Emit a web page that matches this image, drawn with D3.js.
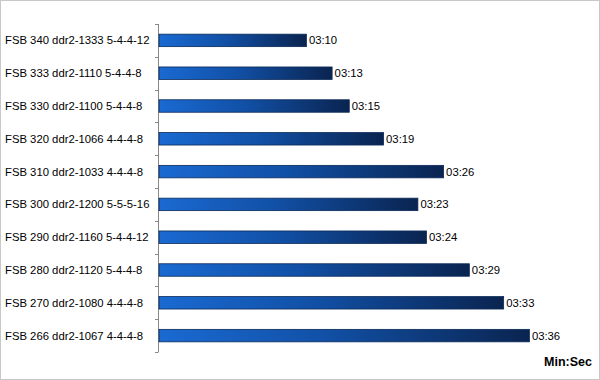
<!DOCTYPE html>
<html><head><meta charset="utf-8">
<script src="https://cdn.jsdelivr.net/npm/d3@7"></script>
<style>body{margin:0;background:#fff}svg{display:block}</style>
</head><body>
<svg id="c" width="600" height="380"></svg>
<script>
const categories = ["FSB 340 ddr2-1333 5-4-4-12","FSB 333 ddr2-1110 5-4-4-8","FSB 330 ddr2-1100 5-4-4-8","FSB 320 ddr2-1066 4-4-4-8","FSB 310 ddr2-1033 4-4-4-8","FSB 300 ddr2-1200 5-5-5-16","FSB 290 ddr2-1160 5-4-4-12","FSB 280 ddr2-1120 5-4-4-8","FSB 270 ddr2-1080 4-4-4-8","FSB 266 ddr2-1067 4-4-4-8"];
const labels = ["03:10","03:13","03:15","03:19","03:26","03:23","03:24","03:29","03:33","03:36"];
const seconds = labels.map(s => { const [m, c] = s.split(":"); return +m * 60 + +c; });
const axisUnit = "Min:Sec";

const svg = d3.select("#c");
svg.append("rect").attr("x",0.5).attr("y",0.5).attr("width",599).attr("height",379)
  .attr("fill","#fff").attr("stroke","#c8c8c8");

const defs = svg.append("defs");
const g = defs.append("linearGradient").attr("id","bg").attr("x1","0%").attr("x2","100%").attr("y1","0%").attr("y2","0%");
g.append("stop").attr("offset","0%").attr("stop-color","#1a6ad2");
g.append("stop").attr("offset","45%").attr("stop-color","#1150a6");
g.append("stop").attr("offset","100%").attr("stop-color","#0a2450");

const x0 = 158;
const x = d3.scaleLinear().domain([172.7, 220]).range([x0, x0 + 47.3 * 8.577]);
const y = d3.scaleBand().domain(categories).range([24, 352]).paddingInner(0.62).paddingOuter(0.31);

const yAxis = d3.axisLeft(y).tickSize(0).tickFormat("");
const ay = svg.append("g").attr("transform",`translate(${x0},0)`).call(yAxis);
ay.select(".domain").attr("stroke","#888").attr("d","M0.5,24V352");
const bounds = d3.range(categories.length + 1).map(i => 24 + i * (328 / categories.length));
svg.append("g").selectAll("line").data(bounds).join("line")
  .attr("x1", x0 - 3).attr("x2", x0 + 0.5)
  .attr("y1", d => Math.round(d) + 0.5).attr("y2", d => Math.round(d) + 0.5)
  .attr("stroke","#888");

svg.append("g").selectAll("text").data(categories).join("text")
  .attr("x", 5).attr("y", d => y(d) + y.bandwidth() / 2)
  .attr("dy","0.35em")
  .attr("font-family","Liberation Sans, Arial, sans-serif").attr("font-size", 11.3)
  .attr("fill","#000").text(d => d);

const bars = svg.append("g");
bars.selectAll("rect").data(categories).join("rect")
  .attr("x", x0 + 1)
  .attr("y", d => y(d))
  .attr("width", (d, i) => x(seconds[i]) - x0 - 1)
  .attr("height", y.bandwidth())
  .attr("fill","url(#bg)")
  .attr("stroke","#0b2a58").attr("stroke-width",0.8);

svg.append("g").selectAll("text").data(categories).join("text")
  .attr("x", (d, i) => x(seconds[i]) + 2.5)
  .attr("y", d => y(d) + y.bandwidth() / 2)
  .attr("dy","0.35em")
  .attr("font-family","Liberation Sans, Arial, sans-serif").attr("font-size", 11.3)
  .attr("fill","#000").text((d, i) => labels[i]);

svg.append("text").attr("x", 592).attr("y", 366).attr("text-anchor","end")
  .attr("font-family","Liberation Sans, Arial, sans-serif").attr("font-size", 12.5)
  .attr("font-weight","bold").attr("fill","#000").text(axisUnit);
</script>
</body></html>
